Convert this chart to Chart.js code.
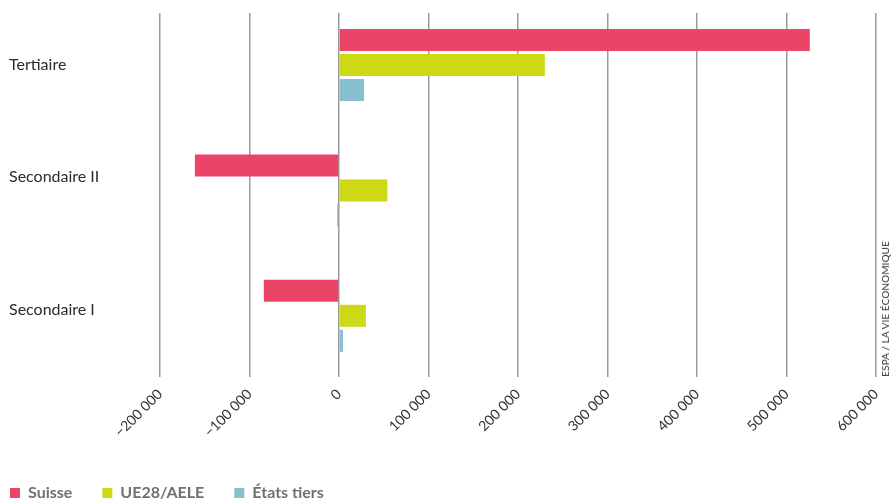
<!DOCTYPE html>
<html>
<head>
<meta charset="utf-8">
<script src="https://cdn.jsdelivr.net/npm/chart.js@4/dist/chart.umd.min.js"></script>
<style>
  html, body { margin: 0; padding: 0; background: #fff; }
  #wrap { position: relative; width: 892px; height: 500px; }
  #source {
    position: absolute;
    left: 879px;
    bottom: 123px;
    writing-mode: vertical-rl;
    transform: rotate(180deg);
    font: 10px Lato, sans-serif;
    color: #333;
    white-space: nowrap;
    letter-spacing: 0.1px;
  }
</style>
</head>
<body>
<div id="wrap">
  <canvas id="chart" width="892" height="500"></canvas>
  <div id="source">ESPA / LA VIE ÉCONOMIQUE</div>
</div>
<script>
const categories = ['Tertiaire', 'Secondaire II', 'Secondaire I'];
const suisse = [526000, -161000, -84000];
const ue28Aele = [230000, 54000, 30000];
const etatsTiers = [28000, -2000, 4500];
const xTicks = [-200000, -100000, 0, 100000, 200000, 300000, 400000, 500000, 600000];

// the source sets its category labels a little above the bar groups
const labelSpots = [0, 0.893, 1.954];

// category i sits at y = i on a linear axis, so the group spacing can match the picture
const toPoints = (values) => values.map((v, i) => ({ x: v, y: i }));

const formatNumber = (v) => {
  const s = Math.abs(v).toString().replace(/\B(?=(\d{3})+(?!\d))/g, ' ');
  return (v < 0 ? '\u2212' : '') + s;
};

new Chart(document.getElementById('chart'), {
  type: 'bar',
  data: {
    datasets: [{
      label: 'Suisse',
      data: toPoints(suisse),
      backgroundColor: '#eb4468'
    }, {
      label: 'UE28/AELE',
      data: toPoints(ue28Aele),
      backgroundColor: '#cdd816'
    }, {
      label: 'États tiers',
      data: toPoints(etatsTiers),
      backgroundColor: '#88bfce'
    }]
  },
  options: {
    indexAxis: 'y',
    responsive: false,
    animation: false,
    // bar sizing uses the smallest tick gap (112px here)
    categoryPercentage: 0.67,
    barPercentage: 0.88,
    layout: {
      padding: { left: -20, right: 16, top: 13, bottom: -11 }
    },
    plugins: {
      tooltip: { enabled: false },
      legend: {
        position: 'bottom',
        align: 'start',
        labels: {
          boxWidth: 10,
          boxHeight: 10,
          padding: 30,
          color: '#707070',
          font: { family: 'Lato', size: 16, weight: 'bold' }
        }
      }
    },
    scales: {
      x: {
        type: 'linear',
        min: -200000,
        max: 600000,
        afterBuildTicks: (scale) => {
          scale.ticks = xTicks.map(v => ({ value: v }));
        },
        afterFit: (scale) => {
          scale.height = 78;
          scale.paddingRight = 0;
        },
        border: { display: false },
        grid: {
          color: '#9a9a9a',
          lineWidth: 1.5,
          drawTicks: false
        },
        ticks: {
          minRotation: 45,
          maxRotation: 45,
          padding: 9,
          color: '#333',
          font: { family: 'Lato', size: 14 },
          callback: (v) => formatNumber(v)
        }
      },
      y: {
        type: 'linear',
        reverse: true,
        offset: false,
        min: -0.415,
        max: 2.488,
        afterBuildTicks: (scale) => {
          scale.ticks = labelSpots.map(v => ({ value: v }));
        },
        afterFit: (scale) => { scale.width = 180; },
        border: { display: false },
        grid: { display: false },
        ticks: {
          mirror: true,
          padding: -151,
          color: '#2b2b2b',
          font: { family: 'Lato', size: 16 },
          callback: (v, i) => categories[i]
        }
      }
    }
  }
});
</script>
</body>
</html>
